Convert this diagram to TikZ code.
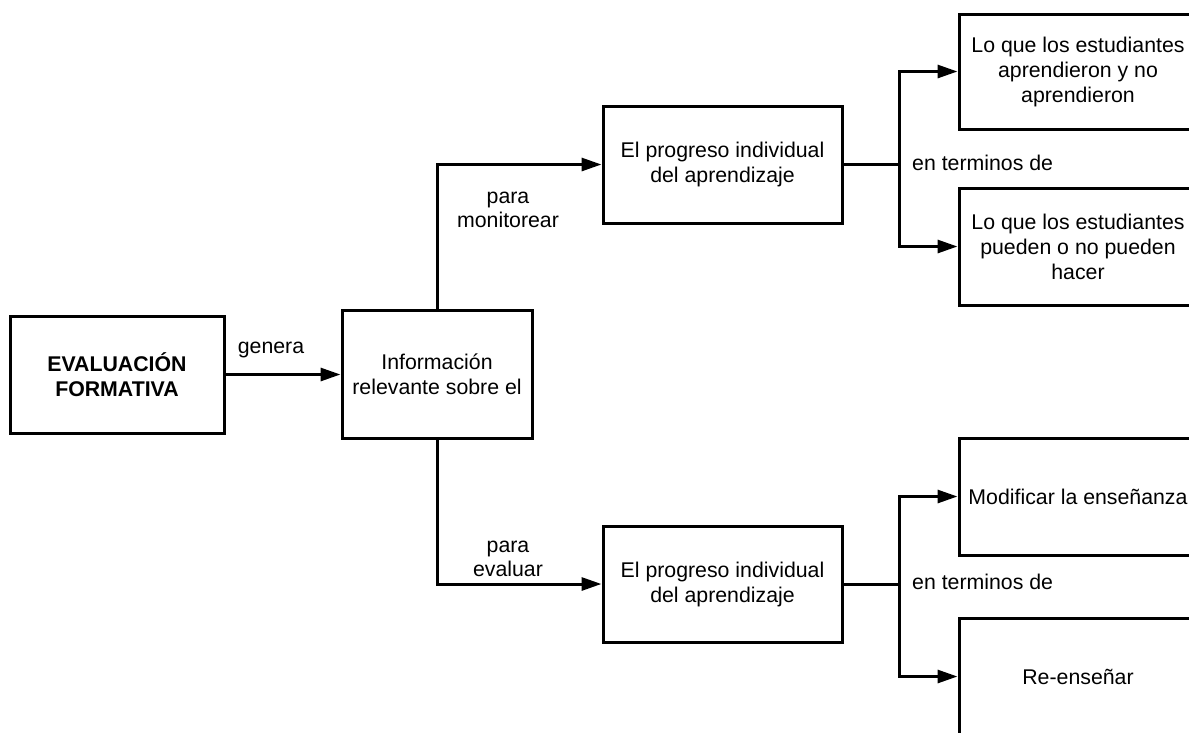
\documentclass[tikz,border=0pt]{standalone}
\usepackage{fontspec}
\setmainfont{Liberation Sans}
\usetikzlibrary{arrows.meta}
\tikzset{
  blk/.style={draw, line width=3pt, rectangle, inner sep=0pt, align=center,
    font=\fontsize{21.3}{25}\selectfont},
  lbl/.style={inner sep=0pt, align=center, font=\fontsize{21.3}{24}\selectfont},
  conn/.style={line width=3pt},
  arr/.style={line width=3pt, -{Triangle[length=20pt,width=13pt]}}
}
\begin{document}
\begin{tikzpicture}[x=1pt,y=-1pt]
\useasboundingbox (0,0) rectangle (1189,732);
\clip (0,0) rectangle (1189,732);
\fill[white] (0,0) rectangle (1189,732);
% nodes
\node[blk, minimum width=214pt, minimum height=117pt, font=\fontsize{21.3}{25}\selectfont\bfseries] (ev) at (117,374.5) {EVALUACIÓN\\FORMATIVA};
\node[blk, minimum width=190pt, minimum height=128pt] (info) at (437,374) {Información\\relevante sobre el};
\node[blk, minimum width=239pt, minimum height=117pt] (p1) at (722.5,164.5) {El progreso individual\\del aprendizaje};
\node[blk, minimum width=239pt, minimum height=116pt] (p2) at (722.5,584) {El progreso individual\\del aprendizaje};
\node[blk, minimum width=238pt, minimum height=115pt] (r1) at (1078,71.5) {Lo que los estudiantes\\aprendieron y no\\aprendieron};
\node[blk, minimum width=238pt, minimum height=117pt] (r2) at (1078,246.5) {Lo que los estudiantes\\pueden o no pueden\\hacer};
\node[blk, minimum width=238pt, minimum height=117pt] (r3) at (1078,496.5) {Modificar la enseñanza};
\node[blk, minimum width=238pt, minimum height=117pt] (r4) at (1078,676.5) {Re-enseñar};
% junctions
\coordinate (j1) at (899,164.5);
\coordinate (j2) at (899,584);
% connectors
\draw[arr] (ev.east) -- (ev.east -| info.west);
\draw[arr] (info.north) |- (p1.west);
\draw[arr] (info.south) |- (p2.west);
\draw[conn] (p1.east) -- (j1);
\draw[arr] (j1) |- (r1.west);
\draw[arr] (j1) |- (r2.west);
\draw[conn] (p2.east) -- (j2);
\draw[arr] (j2) |- (r3.west);
\draw[arr] (j2) |- (r4.west);
% labels
\node[lbl] (lgen) at (271,350) {genera};
\node[lbl] (lmon) at (508,210) {para\\monitorear};
\node[lbl] (leva) at (508,559) {para\\evaluar};
\node[lbl, anchor=west] (lt1) at (912,163) {en terminos de};
\node[lbl, anchor=west] (lt2) at (912,582) {en terminos de};
\end{tikzpicture}
\end{document}
